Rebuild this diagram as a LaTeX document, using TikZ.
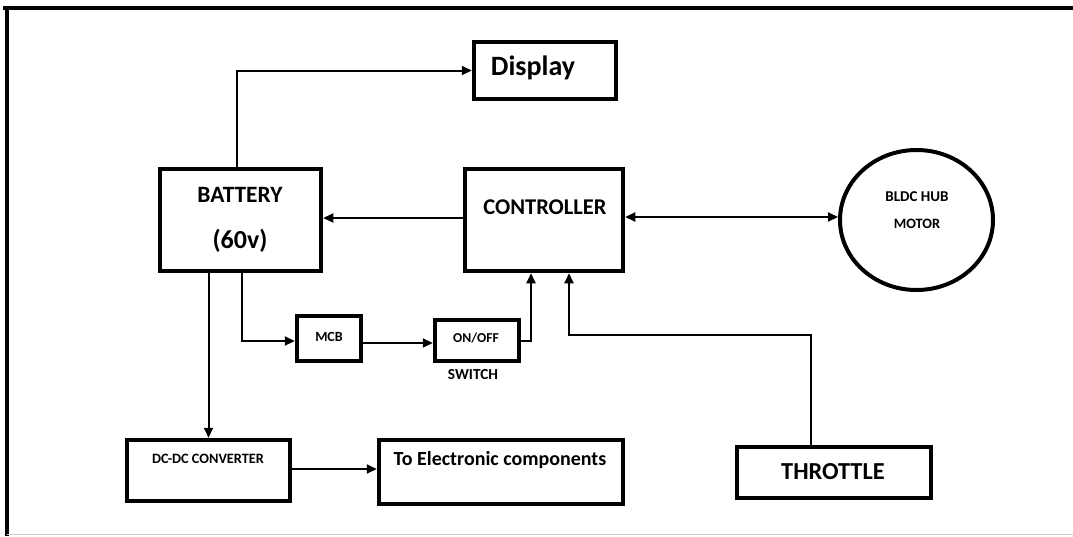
\documentclass[tikz,border=0pt]{standalone}
\usepackage{fontspec}
\setmainfont{Carlito}
\usetikzlibrary{arrows.meta,shapes.geometric}
\begin{document}
\begin{tikzpicture}[x=1pt,y=-1pt,
  blk/.style={draw,line width=4.5pt,inner sep=0pt},
  txt/.style={inner sep=0pt,font=\bfseries},
  conn/.style={line width=2pt},
  arr/.style={conn,-{Triangle[length=10pt,width=9pt]}},
  fs/.style={font=\bfseries\fontsize{#1}{#1}\selectfont}
]
\useasboundingbox (0,0) rectangle (1073,536);
% frame
\draw[line width=3.5pt] (3,8) -- (1073,8);
\draw[line width=3.5pt] (7,8) -- (7,536);
\draw[black!20,line width=1pt] (7,534.5) -- (1073,534.5);

% blocks
\node[blk,minimum width=142pt,minimum height=57pt] (display) at (545,70.5) {};
\node[blk,minimum width=161pt,minimum height=102pt] (battery) at (240.5,220) {};
\node[blk,minimum width=158pt,minimum height=102pt] (controller) at (544,220) {};
\node[draw,line width=4pt,ellipse,inner sep=0pt,minimum width=153pt,minimum height=140pt] (motor) at (916.5,220) {};
\node[blk,minimum width=64pt,minimum height=45pt] (mcb) at (329,338.5) {};
\node[blk,minimum width=84pt,minimum height=41pt] (switch) at (477,340.5) {};
\node[blk,minimum width=163pt,minimum height=61pt] (dcdc) at (208.5,470.5) {};
\node[blk,minimum width=244pt,minimum height=64pt] (toelec) at (501,472) {};
\node[blk,minimum width=194pt,minimum height=51pt] (throttle) at (834,472.5) {};

% texts
\node[txt,fs=28] (tdisplay) at (533,68) {Display};
\node[txt,fs=23.4] (tbat1) at (240,195) {BATTERY};
\node[txt,fs=26] (tbat2) at (240,241) {(60v)};
\node[txt,fs=22.5] (tctrl) at (545,207) {CONTROLLER};
\node[txt,fs=15] (tmot1) at (917,197) {BLDC HUB};
\node[txt,fs=14.3] (tmot2) at (917,224) {MOTOR};
\node[txt,fs=14] (tmcb) at (329,337) {MCB};
\node[txt,fs=13.6] (tsw) at (476,338) {ON/OFF};
\node[txt,fs=15.3] (tswl) at (473,375) {SWITCH};
\node[txt,fs=14.3] (tdcdc) at (208,459) {DC-DC CONVERTER};
\node[txt,fs=20] (telec) at (500,460) {To Electronic components};
\node[txt,fs=24.4] (tthr) at (833,472) {THROTTLE};

% connectors
\draw[arr] ([xshift=-3.5pt]battery.north) |- (display.west);
\draw[arr] ([yshift=2pt]controller.west) -- ([yshift=2pt]battery.east);
\draw[conn,{Triangle[length=10pt,width=9pt]}-{Triangle[length=10pt,width=9pt]}] ([yshift=3pt]controller.east) -- ([yshift=3pt]motor.west);
\draw[arr] ([xshift=1.5pt]battery.south) |- ([yshift=-2.5pt]mcb.west);
\draw[arr] ([yshift=-4.5pt]mcb.east) -- ([yshift=-4.5pt]mcb.east -| switch.west);
\draw[arr] (switch.east) -| ([xshift=-13pt]controller.south);
\coordinate (tbend) at (811,335);
\draw[arr] ([xshift=-23pt]throttle.north) |- (tbend) -| ([xshift=25pt]controller.south);
\draw[arr] (dcdc.north |- battery.south) -- (dcdc.north);
\draw[arr] ([yshift=1.5pt]dcdc.east) -- ([yshift=1.5pt]dcdc.east -| toelec.west);
\end{tikzpicture}
\end{document}
